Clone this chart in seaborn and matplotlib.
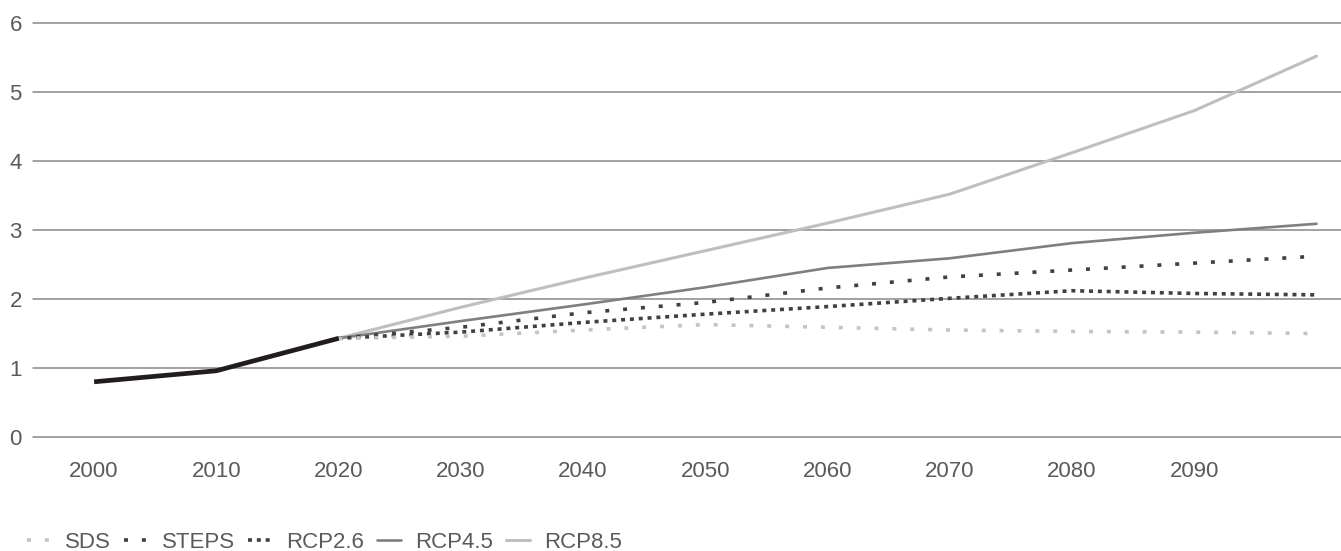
import matplotlib.pyplot as plt
import pandas as pd
import seaborn as sns
from matplotlib.lines import Line2D

hist_years = [2000, 2010, 2020]
hist_vals = [0.80, 0.96, 1.43]

years = [2020, 2030, 2040, 2050, 2060, 2070, 2080, 2090, 2100]
sds = [1.43, 1.46, 1.55, 1.63, 1.59, 1.55, 1.53, 1.52, 1.50]
steps = [1.43, 1.59, 1.80, 1.95, 2.16, 2.32, 2.42, 2.52, 2.62]
rcp26 = [1.43, 1.52, 1.66, 1.78, 1.89, 2.01, 2.12, 2.08, 2.06]
rcp45 = [1.43, 1.68, 1.92, 2.17, 2.45, 2.59, 2.81, 2.96, 3.09]
rcp85 = [1.43, 1.88, 2.30, 2.70, 3.10, 3.52, 4.12, 4.73, 5.52]

xticks = list(range(2000, 2100, 10))
yticks = [0, 1, 2, 3, 4, 5, 6]

sns.set_style("white")
plt.rcParams["font.family"] = ["Liberation Sans", "DejaVu Sans"]
text_col = "#5a5a5a"

fig = plt.figure(figsize=(13.41, 5.51), dpi=100)
ax = fig.add_axes([33 / 1341, 1 - 437 / 551, 1 - 33 / 1341, (437 - 23) / 551])

# style per series: (label, values, colour, linewidth, linestyle)
series = [
    ("RCP8.5", rcp85, "#bfbfbf", 2.2, "-"),
    ("RCP4.5", rcp45, "#7f7f7f", 1.9, "-"),
    ("RCP2.6", rcp26, "#404040", 2.6, (0, (1.1, 1.35))),
    ("STEPS", steps, "#404040", 2.6, (0, (1.1, 3.85))),
    ("SDS", sds, "#c4c4c4", 2.6, (0, (1.1, 3.85))),
]
handles = {}
for label, vals, col, lw, ls in series:
    df = pd.DataFrame({"year": years, "value": vals})
    sns.lineplot(data=df, x="year", y="value", ax=ax, color=col, linewidth=lw,
                 linestyle=ls, dash_capstyle="butt", solid_capstyle="round")
    handles[label] = Line2D([], [], color=col, linewidth=lw, linestyle=ls,
                            dash_capstyle="butt")

hist = pd.DataFrame({"year": hist_years, "value": hist_vals})
sns.lineplot(data=hist, x="year", y="value", ax=ax, color="#211d1e",
             linewidth=3.4, solid_capstyle="butt")

ax.set_xlim(1995, 2102)
ax.set_ylim(0, 6)
ax.set_xticks(xticks)
ax.set_yticks(yticks)
ax.set_xlabel("")
ax.set_ylabel("")
for y in yticks:
    ax.axhline(y, color="#878787", linewidth=1.1, zorder=0, clip_on=False)
sns.despine(ax=ax, left=True, bottom=True)
ax.tick_params(axis="both", length=0, labelsize=16, labelcolor=text_col)
ax.tick_params(axis="x", pad=17)
ax.tick_params(axis="y", pad=8)

order = ["SDS", "STEPS", "RCP2.6", "RCP4.5", "RCP8.5"]
leg = fig.legend([handles[k] for k in order], order, loc="lower left",
                 bbox_to_anchor=(0.005, -0.04), ncol=5, frameon=False,
                 fontsize=16, handlelength=1.1, handletextpad=0.6,
                 columnspacing=0.6)
for t in leg.get_texts():
    t.set_color(text_col)

fig.savefig("out.png", dpi=100)
